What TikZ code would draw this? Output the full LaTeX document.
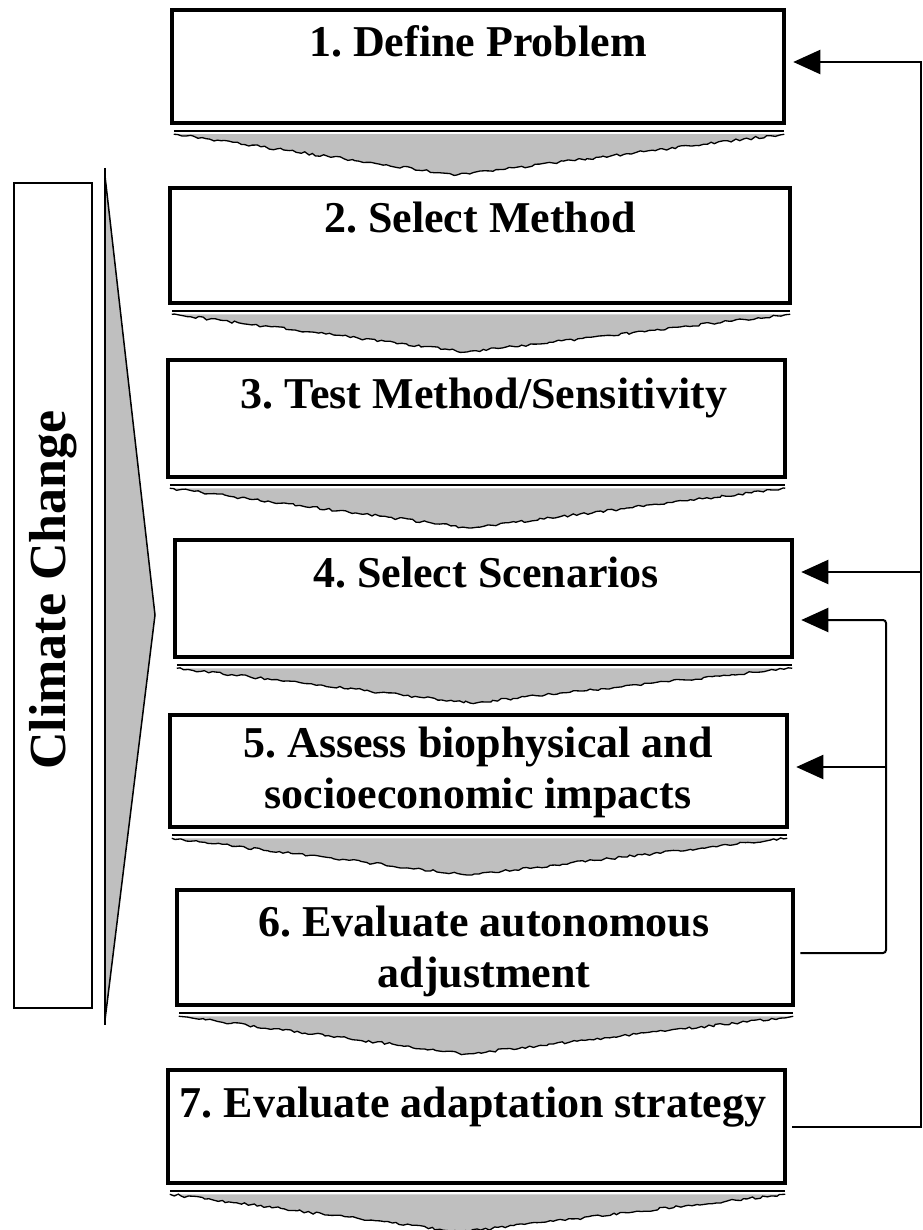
\documentclass[tikz,border=0pt]{standalone}
\usepackage{fontspec}
\setmainfont{Liberation Serif}
\usetikzlibrary{arrows.meta,decorations.pathmorphing}
\begin{document}
\pgfmathsetseed{7}
\frenchspacing
\begin{tikzpicture}[x=1pt,y=-1pt,
  stepbox/.style={draw=black,line width=4.5pt,fill=white,inner sep=0pt},
  steptext/.style={font=\fontsize{44}{51}\selectfont\bfseries,anchor=base,inner sep=0pt,align=center},
  flowline/.style={line width=2pt},
  fb/.style={flowline,-{Triangle[length=27pt,width=24pt]}},
  chev/.style={fill=black!25,draw=black,line width=1.3pt,decorate,
    decoration={random steps,segment length=4pt,amplitude=1.3pt}},
  chevtop/.style={line width=1.6pt}
]
\useasboundingbox (0,0) rectangle (922,1230);

% side bar
\node[draw=black,line width=2.5pt,minimum width=78pt,minimum height=825pt,inner sep=0pt] (cc) at (53,595.5) {};
\node[rotate=90,anchor=base,inner sep=0pt,font=\fontsize{52}{60}\selectfont\bfseries] (cct) at (65,590) {Climate Change};

% growing wedge
\path[fill=black!25,draw=black,line width=1.5pt] (105,176) -- (155,615) -- (105,1020);
\draw[line width=2.5pt] (105,168) -- (105,1025);

% step boxes
\node[stepbox,minimum width=612pt,minimum height=113pt] (b1) at (478,66.5) {};
\node[stepbox,minimum width=620pt,minimum height=115pt] (b2) at (480,245.5) {};
\node[stepbox,minimum width=617pt,minimum height=117pt] (b3) at (476.5,418.5) {};
\node[stepbox,minimum width=617pt,minimum height=117pt] (b4) at (483.5,598.5) {};
\node[stepbox,minimum width=617pt,minimum height=112pt] (b5) at (478.5,771) {};
\node[stepbox,minimum width=616pt,minimum height=115pt] (b6) at (485,947.5) {};
\node[stepbox,minimum width=617pt,minimum height=113pt] (b7) at (476.5,1126.5) {};

% chevrons under each box
\foreach \b/\ax/\ay in {b1/457/175, b2/467/352, b3/469/528, b4/470/703, b5/467/875, b6/466/1054, b7/462/1232}{
  \draw[chevtop] ([shift={(4,6)}]\b.south west) -- ([shift={(-2,6)}]\b.south east);
  \path[chev] ([shift={(4,9)}]\b.south west) -- (\ax,\ay) -- ([shift={(-2,9)}]\b.south east);
}

% step labels (two-line labels sit on the baseline of their last line)
\node[steptext] (t1) at (478,57) {1. Define Problem};
\node[steptext] (t2) at (480,233) {2. Select Method};
\node[steptext] (t3) at (484,408) {3. Test Method/Sensitivity};
\node[steptext] (t4) at (486,587) {4. Select Scenarios};
\node[steptext] (t5) at (478,808) {5. Assess biophysical and\\socioeconomic impacts};
\node[steptext] (t6) at (484,987) {6. Evaluate autonomous\\adjustment};
\node[steptext] (t7) at (473,1117) {7. Evaluate adaptation strategy};

% feedback loops
\coordinate (o7) at (921,1126.5);
\coordinate (o1) at (921,62);
\coordinate (o4) at (921,572);
\coordinate (i6) at (886,953);
\coordinate (i4) at (886,620);
\coordinate (i5) at (886,767);

\draw[fb,shorten <=5pt,shorten >=7pt] (b7.east) -- (o7) -- (o1) -- (b1.east |- o1);
\draw[fb,shorten >=7pt] (o4) -- (b4.east |- o4);
\draw[fb,rounded corners=3pt,shorten <=5pt,shorten >=7pt] (b6.east |- i6) -- (i6) -- (i4) -- (b4.east |- i4);
\draw[fb,shorten >=7pt] (i5) -- (b5.east |- i5);
\end{tikzpicture}
\end{document}
